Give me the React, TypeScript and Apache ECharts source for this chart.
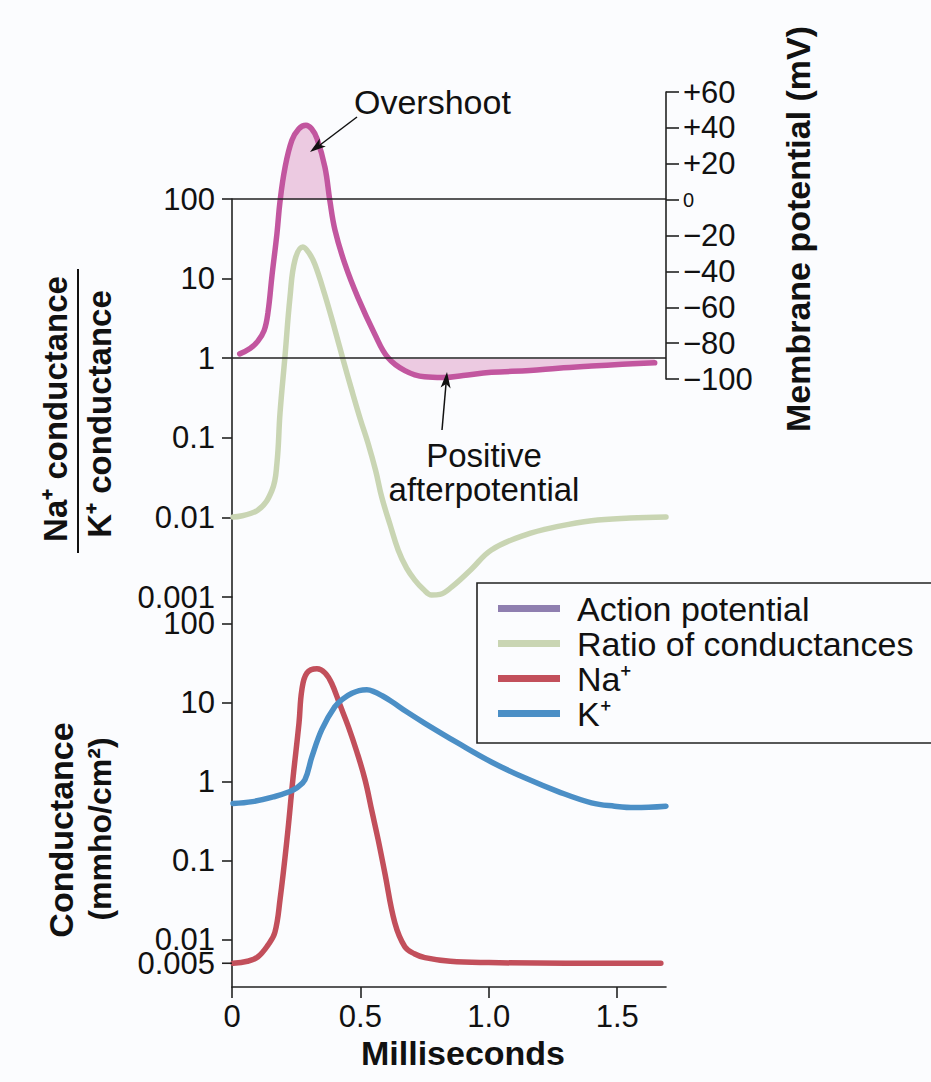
import React, { useEffect, useRef } from 'react';
import * as echarts from 'echarts';

const FONT = '"Liberation Sans", Arial, Helvetica, sans-serif';

// ---- Data ----
// Action potential (membrane potential, mV) vs time (ms)
const apTime = [0.03, 0.07, 0.10, 0.125, 0.14, 0.156, 0.175, 0.187, 0.206, 0.233, 0.26, 0.288, 0.31, 0.331, 0.362, 0.381, 0.401, 0.44, 0.49, 0.556, 0.607, 0.673, 0.75, 0.82, 0.9, 1.01, 1.16, 1.27, 1.4, 1.52, 1.646];
const apMv = [-86, -83, -79, -73, -63, -42, -19, -1, 17.5, 33, 39.5, 41.5, 39.5, 34, 18, -0.5, -17, -36, -54.5, -75, -88, -95.3, -98.8, -99.2, -98, -96.3, -95.3, -94, -92.8, -91.8, -91];

// Ratio of conductances (Na+/K+)
const ratioTime = [0.004, 0.10, 0.156, 0.175, 0.187, 0.206, 0.226, 0.245, 0.276, 0.30, 0.323, 0.36, 0.401, 0.433, 0.466, 0.50, 0.53, 0.56, 0.583, 0.615, 0.647, 0.68, 0.712, 0.745, 0.777, 0.81, 0.856, 0.93, 1.01, 1.14, 1.27, 1.40, 1.55, 1.69];
const ratioValue = [0.0101, 0.0123, 0.022, 0.048, 0.205, 1.03, 5.9, 17, 25, 21, 15, 6.5, 2.26, 0.95, 0.4, 0.17, 0.085, 0.038, 0.018, 0.0082, 0.0039, 0.0023, 0.00163, 0.00125, 0.00106, 0.00108, 0.00134, 0.0022, 0.0039, 0.006, 0.0077, 0.0091, 0.0098, 0.0101];

// Na+ conductance (mmho/cm2)
const naTime = [0.004, 0.06, 0.10, 0.14, 0.167, 0.187, 0.214, 0.237, 0.261, 0.272, 0.292, 0.331, 0.362, 0.388, 0.42, 0.453, 0.486, 0.518, 0.545, 0.569, 0.595, 0.634, 0.673, 0.71, 0.751, 0.85, 1.0, 1.3, 1.67];
const naValue = [0.005, 0.0053, 0.006, 0.0085, 0.0123, 0.032, 0.185, 1.07, 5.6, 14.6, 24, 27, 24, 17.7, 9.5, 5, 2.4, 1.06, 0.42, 0.185, 0.07, 0.0163, 0.0081, 0.0066, 0.0059, 0.0053, 0.0051, 0.005, 0.005];

// K+ conductance (mmho/cm2)
const kTime = [0.004, 0.08, 0.167, 0.22, 0.253, 0.284, 0.311, 0.35, 0.40, 0.435, 0.467, 0.495, 0.525, 0.55, 0.585, 0.623, 0.68, 0.751, 0.879, 1.01, 1.14, 1.27, 1.40, 1.49, 1.568, 1.69];
const kValue = [0.53, 0.56, 0.65, 0.74, 0.84, 1.06, 2.06, 4.6, 8.9, 11.4, 13.2, 14.3, 14.6, 14.0, 12.3, 10.3, 7.7, 5.5, 3.1, 1.78, 1.12, 0.75, 0.54, 0.49, 0.47, 0.49];

// Tick labels
const xTicks = [0, 0.5, 1.0, 1.5];
const ratioTicks = [0.001, 0.01, 0.1, 1, 10, 100];
const conductanceTicks = [0.005, 0.01, 0.1, 1, 10, 100];
const mvTicks = [-100, -80, -60, -40, -20, 0, 20, 40, 60];
const ratioRefLines = [100, 1];

const X_MIN = 0;
const X_MAX = 1.69;
const AFTERPOTENTIAL_BASE_MV = -88.9; // level of the ratio = 1 line on the mV scale
const COND_MIN = 0.0025;
const COND_MAX = 219.6; // axis line continues up to the upper panel

const C_AP = '#c2569f';
const C_AP_FILL = '#eccae1';
const C_AP_LEGEND = '#8f7fb0';
const C_RATIO = '#c9d5b3';
const C_NA = '#c24f5b';
const C_K = '#4b8fc6';
const C_TEXT = '#111111';
const C_AXIS = '#222222';

const SMOOTH = 0.4;

const zip = (xs: number[], ys: number[]) => xs.map((x, i) => [x, ys[i]]);

const titleStyle = (text: string, size: number, bold: boolean, align = 'center') => ({
  text,
  fontFamily: FONT,
  fontSize: size,
  fontWeight: bold ? 'bold' : 'normal',
  fill: C_TEXT,
  align,
  verticalAlign: 'middle',
  textAlign: align,
  textVerticalAlign: 'middle',
});

export default function App() {
  const ref = useRef<HTMLDivElement>(null);

  useEffect(() => {
    if (!ref.current) return;
    const chart = echarts.init(ref.current, undefined, { renderer: 'svg' });

    const tickLabel = { fontFamily: FONT, fontSize: 31, lineHeight: 24, color: C_TEXT, hideOverlap: false };
    const axisLineStyle = { color: C_AXIS, width: 1.6 };

    const gridBase = { left: 232, width: 434, outerBoundsMode: 'none', containLabel: false };

    // ticks of the lower axis that are not powers of ten (0.005) are drawn as
    // marks placed on the axis at their data value
    const extraCondTicks = conductanceTicks.filter(
      (v) => Math.abs(Math.log10(v) - Math.round(Math.log10(v))) > 1e-6
    );

    const option: any = {
      animation: false,
      backgroundColor: '#fbfcfe',
      textStyle: { fontFamily: FONT },
      grid: [
        { ...gridBase, top: 92, height: 287 },
        { ...gridBase, top: 199, height: 398 },
        { ...gridBase, top: 597, height: 390 },
      ],
      xAxis: [
        { gridIndex: 0, type: 'value', min: X_MIN, max: X_MAX, show: false },
        { gridIndex: 1, type: 'value', min: X_MIN, max: X_MAX, show: false },
        {
          gridIndex: 2,
          type: 'value',
          min: X_MIN,
          max: X_MAX,
          interval: xTicks[1] - xTicks[0],
          axisLine: { show: true, onZero: false, lineStyle: axisLineStyle },
          axisTick: { show: true, length: 11, lineStyle: axisLineStyle },
          axisLabel: {
            ...tickLabel,
            lineHeight: 31,
            margin: 14,
            showMaxLabel: false,
            formatter: (v: number) => (v === 0 ? '0' : v.toFixed(1)),
          },
          splitLine: { show: false },
        },
      ],
      yAxis: [
        {
          gridIndex: 0,
          type: 'value',
          position: 'right',
          min: mvTicks[0],
          max: mvTicks[mvTicks.length - 1],
          interval: 20,
          axisLine: { show: true, onZero: false, lineStyle: axisLineStyle },
          axisTick: { show: true, length: 13, lineStyle: axisLineStyle },
          axisLabel: {
            ...tickLabel,
            margin: 17,
            formatter: (v: number) =>
              v === 0 ? '{s|0}' : v > 0 ? '+' + v : '\u2212' + Math.abs(v),
            rich: { s: { fontFamily: FONT, fontSize: 20, color: C_TEXT } },
          },
          splitLine: { show: false },
        },
        {
          gridIndex: 1,
          type: 'log',
          logBase: 10,
          min: ratioTicks[0],
          max: ratioTicks[ratioTicks.length - 1],
          axisLine: { show: true, onZero: false, lineStyle: axisLineStyle },
          axisTick: { show: true, length: 10, lineStyle: axisLineStyle },
          minorTick: { show: false },
          axisLabel: { ...tickLabel, margin: 17, formatter: (v: number) => String(v) },
          splitLine: { show: false },
        },
        {
          gridIndex: 2,
          type: 'log',
          logBase: 10,
          min: COND_MIN,
          max: COND_MAX,
          axisLine: { show: true, onZero: false, lineStyle: axisLineStyle },
          axisTick: { show: true, length: 10, lineStyle: axisLineStyle },
          minorTick: { show: false },
          axisLabel: {
            ...tickLabel,
            margin: 17,
            showMinLabel: false,
            showMaxLabel: false,
            formatter: (v: number) => (conductanceTicks.indexOf(v) >= 0 ? String(v) : ''),
          },
          splitLine: { show: false },
        },
      ],
      legend: {
        orient: 'vertical',
        left: 477,
        top: 583,
        padding: [8, 420, 12, 21],
        itemGap: 0,
        itemWidth: 62,
        itemHeight: 7,
        icon: 'rect',
        borderColor: C_AXIS,
        borderWidth: 1.6,
        backgroundColor: 'transparent',
        selectedMode: false,
        textStyle: {
          fontFamily: FONT,
          fontSize: 34,
          lineHeight: 35,
          color: C_TEXT,
          padding: [0, 0, 0, 12],
        },
        data: [
          { name: 'Action potential', itemStyle: { color: C_AP_LEGEND } },
          { name: 'Ratio of conductances', itemStyle: { color: C_RATIO } },
          { name: 'Na\u207A', itemStyle: { color: C_NA } },
          { name: 'K\u207A', itemStyle: { color: C_K } },
        ],
      },
      series: [
        {
          type: 'line',
          xAxisIndex: 0,
          yAxisIndex: 0,
          data: zip(apTime, apMv.map((v) => Math.max(v, 0))),
          smooth: SMOOTH,
          showSymbol: false,
          silent: true,
          lineStyle: { width: 0, opacity: 0 },
          areaStyle: { color: C_AP_FILL, opacity: 1, origin: 0 },
          z: 1,
        },
        {
          type: 'line',
          xAxisIndex: 0,
          yAxisIndex: 0,
          data: zip(apTime, apMv.map((v) => Math.min(v, AFTERPOTENTIAL_BASE_MV))),
          smooth: SMOOTH,
          showSymbol: false,
          silent: true,
          lineStyle: { width: 0, opacity: 0 },
          areaStyle: { color: C_AP_FILL, opacity: 1, origin: AFTERPOTENTIAL_BASE_MV },
          z: 1,
        },
        {
          name: 'Ratio of conductances',
          type: 'line',
          xAxisIndex: 1,
          yAxisIndex: 1,
          data: zip(ratioTime, ratioValue),
          smooth: SMOOTH,
          showSymbol: false,
          color: C_RATIO,
          lineStyle: { width: 5.5, color: C_RATIO, cap: 'round' },
          z: 2,
          markLine: {
            silent: true,
            symbol: 'none',
            label: { show: false },
            lineStyle: { color: C_AXIS, width: 1.6, type: 'solid' },
            data: ratioRefLines.map((v) => ({ yAxis: v })),
          },
        },
        {
          name: 'Action potential',
          type: 'line',
          xAxisIndex: 0,
          yAxisIndex: 0,
          data: zip(apTime, apMv),
          smooth: SMOOTH,
          showSymbol: false,
          color: C_AP,
          lineStyle: { width: 5.5, color: C_AP, cap: 'round' },
          z: 3,
        },
        {
          name: 'Na\u207A',
          type: 'line',
          xAxisIndex: 2,
          yAxisIndex: 2,
          data: zip(naTime, naValue),
          smooth: SMOOTH,
          showSymbol: false,
          color: C_NA,
          lineStyle: { width: 5.5, color: C_NA, cap: 'round' },
          z: 3,
          markPoint: {
            silent: true,
            symbol: 'rect',
            symbolSize: [10, 1.6],
            symbolOffset: [-5, 0],
            itemStyle: { color: C_AXIS },
            label: {
              show: true,
              position: 'left',
              distance: 7,
              fontFamily: FONT,
              fontSize: 31,
              lineHeight: 24,
              color: C_TEXT,
              formatter: (p: any) => String(p.value),
            },
            data: extraCondTicks.map((v) => ({ coord: [X_MIN, v], value: v })),
          },
        },
        {
          name: 'K\u207A',
          type: 'line',
          xAxisIndex: 2,
          yAxisIndex: 2,
          data: zip(kTime, kValue),
          smooth: SMOOTH,
          showSymbol: false,
          color: C_K,
          lineStyle: { width: 5.5, color: C_K, cap: 'round' },
          z: 3,
        },
      ],
      graphic: {
        elements: [
          { type: 'text', x: 55, y: 409, rotation: Math.PI / 2, z: 100, style: titleStyle('Na\u207A conductance', 33, true) },
          {
            type: 'line',
            z: 100,
            shape: { x1: 78, y1: 269, x2: 78, y2: 553 },
            style: { stroke: C_TEXT, lineWidth: 2 },
          },
          { type: 'text', x: 99, y: 414, rotation: Math.PI / 2, z: 100, style: titleStyle('K\u207A conductance', 33, true) },
          { type: 'text', x: 61, y: 830, rotation: Math.PI / 2, z: 100, style: titleStyle('Conductance', 34, true) },
          { type: 'text', x: 100, y: 829, rotation: Math.PI / 2, z: 100, style: titleStyle('(mmho/cm\u00B2)', 32, true) },
          { type: 'text', x: 798, y: 229, rotation: Math.PI / 2, z: 100, style: titleStyle('Membrane potential (mV)', 34, true) },
          { type: 'text', x: 463, y: 1053, z: 100, style: titleStyle('Milliseconds', 34, true) },
          { type: 'text', x: 354, y: 102, z: 100, style: titleStyle('Overshoot', 34, false, 'left') },
          {
            type: 'line',
            z: 100,
            shape: { x1: 357, y1: 117, x2: 320, y2: 145 },
            style: { stroke: C_TEXT, lineWidth: 1.5 },
          },
          {
            type: 'polygon',
            z: 100,
            shape: { points: [[310, 152], [319.8, 138.4], [319.6, 144.8], [325.8, 146.4]] },
            style: { fill: C_TEXT },
          },
          {
            type: 'text',
            x: 484,
            y: 472,
            z: 100,
            style: { ...titleStyle('Positive\nafterpotential', 33, false), lineHeight: 34 },
          },
          {
            type: 'line',
            z: 100,
            shape: { x1: 442, y1: 430, x2: 446, y2: 384 },
            style: { stroke: C_TEXT, lineWidth: 1.5 },
          },
          {
            type: 'polygon',
            z: 100,
            shape: { points: [[447, 372], [450.6, 388.4], [446.1, 384], [440.6, 387.6]] },
            style: { fill: C_TEXT },
          },
        ],
      },
    };

    chart.setOption(option);
    return () => chart.dispose();
  }, []);

  return (
    <div
      ref={ref}
      style={{ position: 'absolute', left: 0, top: 0, width: 931, height: 1082 }}
    />
  );
}
